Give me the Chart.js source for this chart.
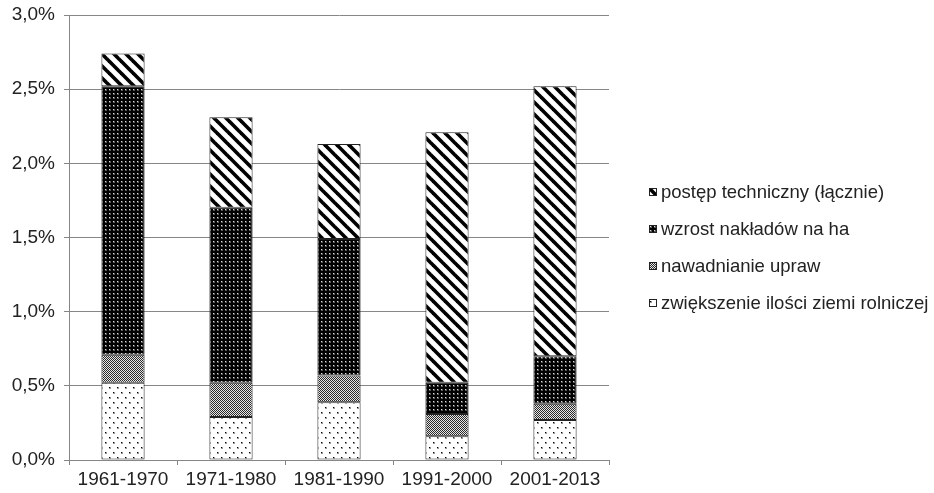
<!DOCTYPE html>
<html><head><meta charset="utf-8">
<script src="https://cdn.jsdelivr.net/npm/chart.js@4/dist/chart.umd.min.js"></script>
<style>
html,body{margin:0;padding:0;background:#fff;}
#wrap{position:relative;width:934px;height:493px;overflow:hidden;}
#legend{position:absolute;left:649px;top:173px;font-family:"Liberation Sans",Arial,sans-serif;font-size:18.5px;color:#222;}
.item{display:flex;align-items:center;height:37px;white-space:nowrap;}
.item canvas{width:8px;height:8px;margin-right:4px;display:block;}
</style></head><body>
<div id="wrap"><canvas id="c" width="934" height="493"></canvas><div id="legend"></div></div>
<script>
const categories = ['1961-1970', '1971-1980', '1981-1990', '1991-2000', '2001-2013'];
const seriesNames = ['zwiększenie ilości ziemi rolniczej', 'nawadnianie upraw', 'wzrost nakładów na ha', 'postęp techniczny (łącznie)'];
const landValues = [0.52, 0.29, 0.39, 0.16, 0.27];
const irrigationValues = [0.19, 0.23, 0.18, 0.15, 0.11];
const inputsValues = [1.81, 1.18, 0.92, 0.21, 0.32];
const techValues = [0.22, 0.61, 0.64, 1.69, 1.82];
const yTickValues = [0, 0.5, 1.0, 1.5, 2.0, 2.5, 3.0];

function tile(w, h, draw) {
  const c = document.createElement('canvas');
  c.width = w; c.height = h;
  const g = c.getContext('2d');
  draw(g);
  return c;
}
const tiles = {
  dotsWhite: tile(8, 10, g => {
    g.fillStyle = '#fff'; g.fillRect(0, 0, 8, 10);
    g.fillStyle = '#999'; g.fillRect(1, 2, 2, 2); g.fillRect(5, 7, 2, 2);
    g.fillStyle = '#000'; g.fillRect(1, 2, 1, 1); g.fillRect(5, 7, 1, 1);
  }),
  checker: tile(2, 2, g => {
    g.fillStyle = '#e6e6e6'; g.fillRect(0, 0, 2, 2);
    g.fillStyle = '#2a2a2a'; g.fillRect(0, 0, 1, 1); g.fillRect(1, 1, 1, 1);
  }),
  dotsBlack: tile(4, 4, g => {
    g.fillStyle = '#000'; g.fillRect(0, 0, 4, 4);
    g.fillStyle = '#555'; g.fillRect(1, 1, 2, 2);
    g.fillStyle = '#ddd'; g.fillRect(1, 1, 1, 1);
  }),
  stripes: tile(12, 12, g => {
    g.fillStyle = '#fff'; g.fillRect(0, 0, 12, 12);
    g.strokeStyle = '#000'; g.lineWidth = 3.6;
    for (const k of [-12, 0, 12]) {
      g.beginPath(); g.moveTo(k - 3, -3); g.lineTo(k + 15, 15); g.stroke();
    }
  })
};
const ctx = document.getElementById('c').getContext('2d');
const pat = name => ctx.createPattern(tiles[name], 'repeat');
const seriesValues = [landValues, irrigationValues, inputsValues, techValues];
const seriesTiles = ['dotsWhite', 'checker', 'dotsBlack', 'stripes'];

const datasets = seriesNames.map((n, i) => ({
  label: n,
  data: seriesValues[i],
  backgroundColor: pat(seriesTiles[i]),
  borderColor: '#222',
  borderWidth: 1,
  borderSkipped: false,
  categoryPercentage: 1.0,
  barPercentage: 0.4
}));

const FONT = {family: '"Liberation Sans", Arial, sans-serif', size: 19};
new Chart(ctx, {
  type: 'bar',
  data: {labels: categories, datasets},
  options: {
    responsive: false,
    animation: false,
    devicePixelRatio: 1,
    layout: {padding: {left: 0, top: 15, right: 325, bottom: 0}},
    plugins: {legend: {display: false}, tooltip: {enabled: false}},
    scales: {
      x: {
        stacked: true,
        grid: {offset: true, drawOnChartArea: false, drawTicks: true, tickLength: 5, color: '#868686'},
        border: {display: true, color: '#868686', width: 1},
        ticks: {font: FONT, color: '#222', padding: 3, maxRotation: 0},
        afterFit: s => { s.height = 33; s.paddingLeft = 0; s.paddingRight = 0; }
      },
      y: {
        stacked: true,
        min: 0, max: 3,
        afterBuildTicks: s => { s.ticks = yTickValues.map(v => ({value: v})); },
        grid: {color: '#868686', tickLength: 5},
        border: {display: true, color: '#868686', width: 1},
        ticks: {font: FONT, color: '#222', padding: 9,
          callback: v => v.toFixed(1).replace('.', ',') + '%'},
        afterFit: s => { s.width = 69; s.paddingTop = 0; s.paddingBottom = 0; }
      }
    }
  }
});

const legend = document.getElementById('legend');
for (let i = seriesNames.length - 1; i >= 0; i--) {
  const row = document.createElement('div');
  row.className = 'item';
  const sw = document.createElement('canvas');
  sw.width = 8; sw.height = 8;
  const g = sw.getContext('2d');
  g.fillStyle = g.createPattern(tiles[seriesTiles[i]], 'repeat');
  g.fillRect(0, 0, 8, 8);
  g.strokeStyle = '#222'; g.lineWidth = 1; g.strokeRect(0.5, 0.5, 7, 7);
  const t = document.createElement('span');
  t.textContent = seriesNames[i];
  row.appendChild(sw); row.appendChild(t);
  legend.appendChild(row);
}
</script>
</body></html>
